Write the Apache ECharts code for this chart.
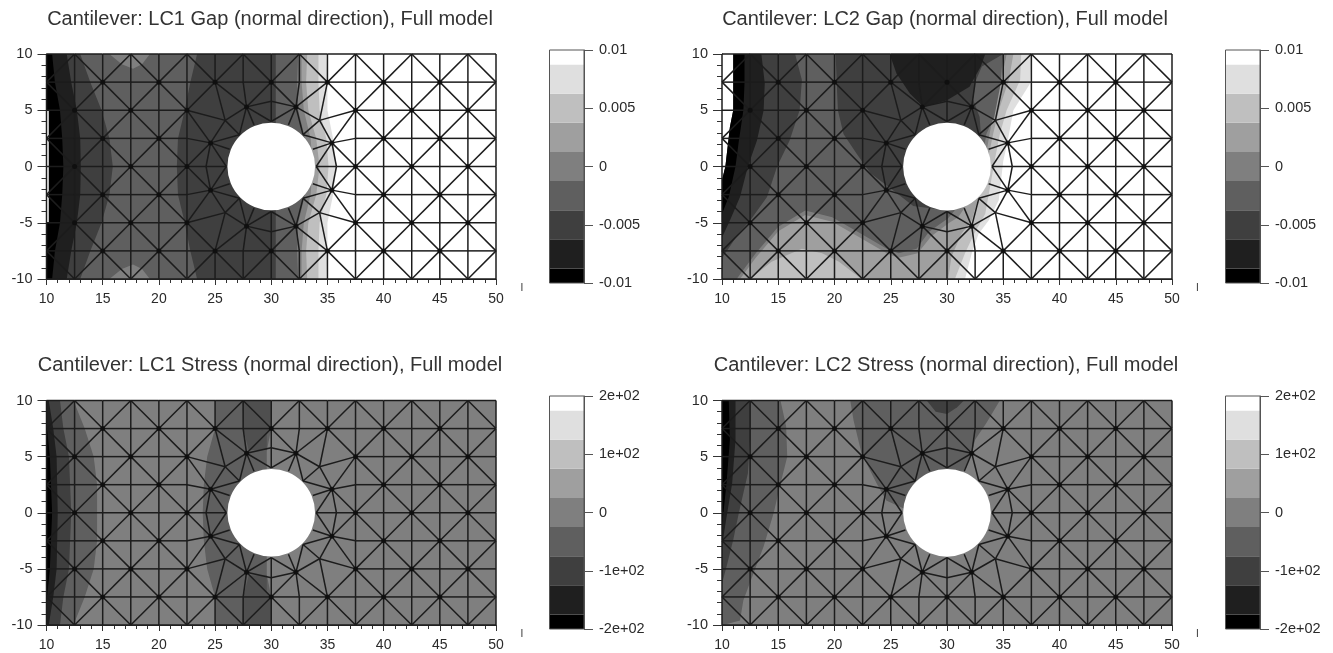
<!DOCTYPE html>
<html><head><meta charset="utf-8">
<style>html,body{margin:0;padding:0;background:#fff}#c{width:1333px;height:653px;filter:blur(0.45px)}</style>
<script src="https://cdn.jsdelivr.net/npm/echarts@6/dist/echarts.min.js"></script>
</head><body><div id="c"></div>
<script>
// ---------- data (all in model coordinates) ----------
const titles = [
  'Cantilever: LC1 Gap (normal direction), Full model',
  'Cantilever: LC2 Gap (normal direction), Full model',
  'Cantilever: LC1 Stress (normal direction), Full model',
  'Cantilever: LC2 Stress (normal direction), Full model'
];
const greyLevels = ['#000000','#1f1f1f','#3f3f3f','#5f5f5f','#7f7f7f','#9f9f9f','#bfbfbf','#dfdfdf','#ffffff','#4f4f4f'];
const gapEdges = [-0.01,-0.00875,-0.00625,-0.00375,-0.00125,0.00125,0.00375,0.00625,0.00875,0.01];
const stressEdges = [-200,-175,-125,-75,-25,25,75,125,175,200];
const gapTickLabels = {'-0.01':'-0.01','-0.005':'-0.005','0':'0','0.005':'0.005','0.01':'0.01'};
const stressTickLabels = {'-200':'-2e+02','-100':'-1e+02','0':'0','100':'1e+02','200':'2e+02'};
const meshXs = [10,12.5,15,17.5,20,22.5,25,27.5,30,32.5,35,37.5,40,42.5,45,47.5,50];
const meshYs = [-10,-7.5,-5,-2.5,0,2.5,5,7.5,10];
const ringNodes = [[30,5.8],[32.2,5.3],[34.3,4.1],[35.4,2.1],[35.8,0],[35.4,-2.1],[34.3,-4.1],[32.2,-5.3],
  [30,-5.8],[27.8,-5.3],[25.9,-4.1],[24.6,-2.1],[24.2,0],[24.6,2.1],[25.9,4.1],[27.8,5.3]];
const holeNodes = [[30,4],[31.53,3.7],[32.83,2.83],[33.7,1.53],[34,0],[33.7,-1.53],[32.83,-2.83],[31.53,-3.7],
  [30,-4],[28.47,-3.7],[27.17,-2.83],[26.3,-1.53],[26,0],[26.3,1.53],[27.17,2.83],[28.47,3.7]];
const ringLinks = [
  [[30,7.5]],[[30,7.5],[32.5,7.5],[35,7.5]],[[35,7.5],[37.5,5]],[[37.5,5],[37.5,2.5],[37.5,0]],
  [[37.5,0]],[[37.5,0],[37.5,-2.5],[37.5,-5]],[[37.5,-5],[35,-7.5]],[[35,-7.5],[32.5,-7.5],[30,-7.5]],
  [[30,-7.5]],[[30,-7.5],[27.5,-7.5],[25,-7.5]],[[25,-7.5],[22.5,-5]],[[22.5,-5],[22.5,-2.5],[22.5,0]],
  [[22.5,0]],[[22.5,0],[22.5,2.5],[22.5,5]],[[22.5,5],[25,7.5]],[[25,7.5],[27.5,7.5],[30,7.5]]
];
const holeCircle = [[30,0,3.9]];
const L = [[10,-10],[10,10]];   // closes a region along the clamped edge

const lc1Gap = [
 [7,[[34.9,10],[35,7.5],[35,5],[35.5,2.5],[35.8,0],[35.5,-2.5],[35,-5],[35,-7.5],[34.9,-10],...L]],
 [6,[[34.2,10],[34.2,7.5],[34.3,5],[34.9,2.5],[35.1,0],[34.9,-2.5],[34.3,-5],[34.2,-7.5],[34.2,-10],...L]],
 [5,[[33.2,10],[33.1,7.5],[33.3,5],[34,2.5],[34.3,0],[34,-2.5],[33.3,-5],[33.1,-7.5],[33.2,-10],...L]],
 [4,[[32.7,10],[32.7,7.5],[32.9,5],[33.5,2.5],[33.7,0],[33.5,-2.5],[32.9,-5],[32.7,-7.5],[32.7,-10],...L]],
 [3,[[32.4,10],[32.3,7.5],[32.4,5],[33,2.5],[33.2,0],[33,-2.5],[32.4,-5],[32.3,-7.5],[32.4,-10],...L]],
 [2,[[30.4,10],[30.4,-10],...L]],
 [3,[[23.4,10],[22.8,7.5],[22.3,5],[21.7,2.5],[21.6,0],[21.7,-2.5],[22.3,-5],[22.8,-7.5],[23.4,-10],...L]],
 [4,[[15.6,10],[16.7,9.1],[17.7,8.7],[18.5,9.1],[19.2,10]]],
 [4,[[15.6,-10],[16.7,-9.1],[17.7,-8.7],[18.5,-9.1],[19.2,-10]]],
 [2,[[13,10],[13.9,7.5],[14.9,5],[15.6,2.5],[15.9,0],[15.6,-2.5],[14.9,-5],[13.9,-7.5],[13,-10],...L]],
 [1,[[11.8,10],[12.2,7.5],[12.7,5],[13,2.5],[13.05,0],[13,-2.5],[12.7,-5],[12.2,-7.5],[11.8,-10],...L]],
 [0,[[10.5,10],[10.75,7.5],[11.2,5],[11.4,2.5],[11.5,0],[11.4,-2.5],[11.2,-5],[10.75,-7.5],[10.5,-10],...L]],
 [8,[[10,5],[10.2,5],[10.2,-5],[10,-5]]]
];
const lc2Gap = [
 [7,[[37.5,10],[37.4,7.4],[35.9,5],[35.4,2.3],[35,0.5],[34.6,-3],[33.7,-4.8],[32.8,-6],[32.2,-7.7],[31.6,-10],...L]],
 [6,[[36.6,10],[36.5,7.7],[35.3,5],[34.7,2.9],[34.3,0.85],[33.4,-4.2],[32.4,-6],[31.6,-7.7],[30.7,-10],...L]],
 [5,[[35.9,10],[35.5,7.7],[34.6,5],[34.1,2.9],[33.5,0],[33,-2],[32.2,-4.8],[31.3,-5.95],[30.4,-8],[30.1,-10],...L]],
 [4,[[35.3,10],[34.9,8],[34.3,5.5],[33.8,3],[33.3,0],[32,-3],[31,-4.5],[30.2,-5],[28.6,-6.2],[27.4,-7.7],[25.7,-8.1],[24.8,-7.8],[22.4,-6.4],[19.8,-4.9],[17.4,-4.3],[15,-5.75],[13,-8.1],[11.6,-10],...L]],
 [3,[[35,10],[34.7,7],[34.2,4.4],[33.5,2.9],[33,0],[31,-3.5],[30.1,-4.6],[28.4,-5.8],[27.3,-7.3],[25.7,-7.7],[24.8,-7.4],[22.4,-6],[19.8,-4.5],[17.4,-3.9],[15,-5.35],[13,-7.7],[11.3,-10],...L]],
 [6,[[12.5,-10],[14.4,-8.46],[17.1,-7.3],[18.9,-7.7],[20.4,-8.46],[22.4,-10]]],
 [2,[[20.1,10],[20.2,7.4],[20.3,5],[20.8,2.9],[22,1.1],[23.2,-0.6],[25.2,-2.1],[27,-3.5],[30,-3.9],[32,0],[33,3],[32.9,4.4],[32.3,6],[32.5,7.5],[33.1,8.9],[35,10]]],
 [1,[[24.9,10],[25.5,8.3],[26.7,6.5],[27.9,5.3],[30,5.9],[32,7.1],[33,8.9],[33.4,10]]],
 [2,[[16.5,10],[17.1,7.7],[16.9,5],[16,2.3],[14.9,0],[14,-2.7],[12.5,-4.8],[11.5,-5.9],[10.1,-8],...L]],
 [1,[[13.5,10],[13.8,7.4],[13.7,5],[13.1,2.3],[12.3,0],[11.6,-2.7],[10.7,-4.8],[10,-6.3],[10,10]]],
 [8,[[10,10],[11,10],[11,5],[10.7,3.5],[10.3,0],[10,-1.2]]],
 [0,[[11,10],[12,10],[12,7.4],[11.9,5],[11.5,2.3],[11.2,0],[10.6,-2.7],[10,-4.2],[10,-1.2],[10.3,0],[10.7,3.5],[11,5]]]
];
const lc1Stress = [
 [4,[[50,10],[50,-10],...L]],
 [3,[[25,10],[25,7.5],[24.3,5],[24,2.5],[23.9,0],[24,-2.5],[24.3,-5],[25,-7.5],[25,-10],[30,-10],[30,-7.5],[29.6,-5.5],[29.6,5.5],[30,7.5],[30,10]]],
 [9,[[27.4,10],[30,10],[30,7.5],[29.6,7],[29.6,5.6],[28,5.6],[27.5,7.5]]],
 [9,[[27.4,-10],[30,-10],[30,-7.5],[29.6,-7],[29.6,-5.6],[28,-5.6],[27.5,-7.5]]],
 [3,[[12.4,10],[13.4,7.5],[14.2,5],[14.5,2.5],[14.5,0],[14.5,-2.5],[14.2,-5],[13.4,-7.5],[12.4,-10],...L]],
 [2,[[11.2,10],[11.5,7.5],[12,5],[12.2,0],[12,-5],[11.5,-7.5],[11.2,-10],...L]],
 [1,[[10.2,10],[10.6,7.5],[10.9,5],[11,0],[10.9,-5],[10.6,-7.5],[10.2,-10],...L]],
 [0,[[10,8],[10.3,5],[10.5,0],[10.3,-5],[10,-8]]]
];
const lc2Stress = [
 [4,[[50,10],[50,-10],...L]],
 [3,[[21.4,10],[21.7,8.2],[22.4,5.3],[23.75,2.6],[24.6,1.1],[26.1,0.4],[31.5,3.8],[32.2,5.3],[32.5,6.5],[33.5,8],[34.7,10]]],
 [2,[[28.2,10],[29,9],[30,8.8],[30.9,9.4],[31.5,10]]],
 [3,[[15.2,10],[15.7,7.7],[15.8,5],[15.2,2.6],[14.6,0],[13.7,-3],[12.8,-5.4],[11.9,-7.8],[11.6,-9.6],[10.1,-10],...L]],
 [2,[[12.5,10],[12.5,6.5],[12.3,3.5],[11.5,0],[11,-2.4],[10.4,-4.8],[10,-6.3],[10,10]]],
 [1,[[11.2,10],[11.2,6.5],[10.9,2.6],[10.4,-0.4],[10,-3],[10,10]]],
 [0,[[10.6,10],[10.7,6.5],[10.4,2.6],[10,-1.2],[10,10]]]
];
const fieldContours = [lc1Gap, lc2Gap, lc1Stress, lc2Stress];

// ---------- mesh assembled from the node lists ----------
const segments = [], hubs = [];
const inHoleZone = (x,y) => x>22.5 && x<37.5 && y>-7.5 && y<7.5;
meshXs.forEach((x,i)=>meshYs.forEach((y,j)=>{
  const nx = meshXs[i+1], ny = meshYs[j+1], py = meshYs[j-1];
  if (nx!==undefined && !inHoleZone(x,y) && !inHoleZone(nx,y)) segments.push([x,y,nx,y]);
  if (ny!==undefined && !inHoleZone(x,y) && !inHoleZone(x,ny)) segments.push([x,y,x,ny]);
  if ((i+j)%2===1) {
    if (!inHoleZone(x,y) && x>10 && x<50 && y>-10 && y<10) hubs.push([x,y]);
    if (nx!==undefined && ny!==undefined && !inHoleZone(x,y) && !inHoleZone(nx,ny)) segments.push([x,y,nx,ny]);
    if (nx!==undefined && py!==undefined && !inHoleZone(x,y) && !inHoleZone(nx,py)) segments.push([x,y,nx,py]);
  }
}));
ringNodes.forEach((p,k)=>{
  const q = ringNodes[(k+1)%16];
  segments.push([p[0],p[1],q[0],q[1]]);
  segments.push([p[0],p[1],holeNodes[k][0],holeNodes[k][1]]);
  if (k%2===1) {
    const a = holeNodes[(k+15)%16], b = holeNodes[(k+1)%16];
    segments.push([p[0],p[1],a[0],a[1]], [p[0],p[1],b[0],b[1]]);
    hubs.push(p);
  }
  ringLinks[k].forEach(t=>segments.push([p[0],p[1],t[0],t[1]]));
});

// ---------- layout ----------
const plotBoxes = [
  {left:46.5,top:54,width:449.5,height:225, barLeft:549.5,barTop:50,barH:233, titleX:270,titleY:9},
  {left:722,top:54,width:450,height:225, barLeft:1225.5,barTop:50,barH:233, titleX:945,titleY:9},
  {left:46.5,top:400.5,width:449.5,height:224.5, barLeft:549.5,barTop:396,barH:233, titleX:270,titleY:355},
  {left:722,top:400.5,width:450,height:224.5, barLeft:1225.5,barTop:396,barH:233, titleX:946,titleY:355}
];
const FONT = '"Liberation Sans", Arial, sans-serif';
const grid=[], xAxis=[], yAxis=[], series=[], title=[];

plotBoxes.forEach((b,p)=>{
  const g = grid.length;
  grid.push({left:b.left,top:b.top,width:b.width,height:b.height,containLabel:false});
  xAxis.push({type:'value',gridIndex:g,min:10,max:50,interval:5,
    axisLine:{show:true,onZero:false,lineStyle:{color:'#333'}},
    axisTick:{show:true,length:6,lineStyle:{color:'#333'}},
    minorTick:{show:true,splitNumber:5,length:4,lineStyle:{color:'#333'}},
    splitLine:{show:false},
    axisLabel:{fontFamily:FONT,fontSize:14,color:'#2a2a2a',margin:13}});
  yAxis.push({type:'value',gridIndex:g,min:-10,max:10,interval:5,
    axisLine:{show:true,onZero:false,lineStyle:{color:'#333'}},
    axisTick:{show:true,length:9,lineStyle:{color:'#333'}},
    minorTick:{show:true,splitNumber:5,length:5,lineStyle:{color:'#333'}},
    splitLine:{show:false},
    axisLabel:{fontFamily:FONT,fontSize:14.5,color:'#2a2a2a',margin:14}});
  const contours = fieldContours[p];
  series.push({type:'custom',xAxisIndex:g,yAxisIndex:g,coordinateSystem:'cartesian2d',z:2,silent:true,clip:true,
    data:contours.map((c,i)=>[i]),
    renderItem:(params,api)=>{
      const c = contours[api.value(0)];
      return {type:'polygon',shape:{points:c[1].map(pt=>api.coord(pt))},style:{fill:greyLevels[c[0]]}};
    }});
  series.push({type:'custom',xAxisIndex:g,yAxisIndex:g,z:4,silent:true,clip:false,data:segments,
    renderItem:(params,api)=>{
      const a = api.coord([api.value(0),api.value(1)]), b = api.coord([api.value(2),api.value(3)]);
      return {type:'line',shape:{x1:a[0],y1:a[1],x2:b[0],y2:b[1]},style:{stroke:'#1c1c1c',lineWidth:1.5,fill:null}};
    }});
  series.push({type:'scatter',xAxisIndex:g,yAxisIndex:g,z:5,silent:true,clip:true,data:hubs,symbolSize:5,
    itemStyle:{color:'#0c0c0c'}});
  series.push({type:'custom',xAxisIndex:g,yAxisIndex:g,z:6,silent:true,data:holeCircle,
    renderItem:(params,api)=>{
      const c = api.coord([api.value(0),api.value(1)]);
      return {type:'circle',shape:{cx:c[0],cy:c[1],r:api.size([api.value(2),0])[0]},style:{fill:'#fff'}};
    }});

  // colour bar
  const isGap = p<2, edges = isGap?gapEdges:stressEdges, labels = isGap?gapTickLabels:stressTickLabels;
  const cb = grid.length, lo = edges[0], hi = edges[edges.length-1];
  grid.push({left:b.barLeft,top:b.barTop,width:34.5,height:b.barH});
  xAxis.push({type:'value',gridIndex:cb,min:0,max:1,show:false});
  yAxis.push({type:'value',gridIndex:cb,position:'right',min:lo,max:hi,interval:hi/2,
    axisLine:{show:true,onZero:false,lineStyle:{color:'#555'}},
    axisTick:{show:true,length:9,lineStyle:{color:'#555'}},
    splitLine:{show:false},
    axisLabel:{fontFamily:FONT,fontSize:14.5,color:'#2a2a2a',margin:15,
      formatter:v=>labels[String(+v.toPrecision(6))]}});
  const bandData = edges.slice(0,-1).map((e,i)=>[e,edges[i+1],i]);
  series.push({type:'custom',xAxisIndex:cb,yAxisIndex:cb,z:2,silent:true,data:bandData,
    renderItem:(params,api)=>{
      const a = api.coord([0,api.value(1)]), c = api.coord([1,api.value(0)]);
      return {type:'rect',shape:{x:a[0],y:a[1],width:c[0]-a[0],height:c[1]-a[1]},style:{fill:greyLevels[api.value(2)]}};
    }});
  series.push({type:'custom',xAxisIndex:cb,yAxisIndex:cb,z:3,silent:true,data:[[lo,hi]],
    renderItem:(params,api)=>{
      const a = api.coord([0,api.value(1)]), c = api.coord([1,api.value(0)]);
      return {type:'rect',shape:{x:a[0],y:a[1],width:c[0]-a[0],height:c[1]-a[1]},style:{fill:null,stroke:'#555',lineWidth:1}};
    }});

  title.push({text:titles[p],left:b.titleX,top:b.titleY,textAlign:'center',padding:0,
    textStyle:{fontFamily:FONT,fontSize:20,fontWeight:'normal',color:'#333'}});
  title.push({text:'I',left:b.left+474,top:b.top+b.height+4,padding:0,
    textStyle:{fontFamily:FONT,fontSize:10,fontWeight:'normal',color:'#333'}});
});

const chart = echarts.init(document.getElementById('c'),null,{renderer:'canvas'});
chart.setOption({animation:false,backgroundColor:'#fff',title,grid,xAxis,yAxis,series});
</script></body></html>
